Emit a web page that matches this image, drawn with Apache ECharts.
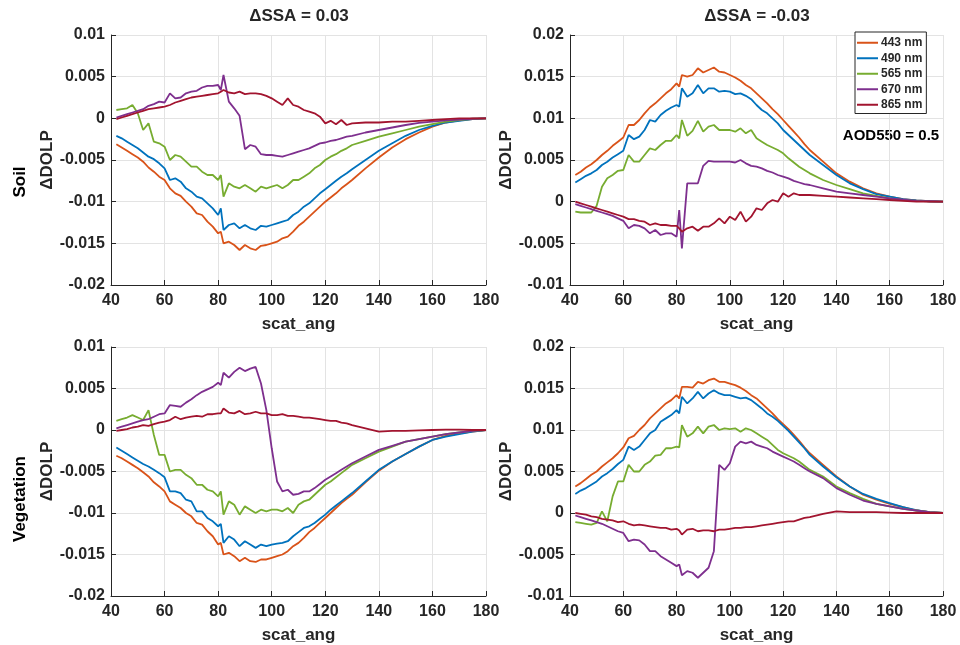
<!DOCTYPE html>
<html>
<head>
<meta charset="utf-8">
<script src="https://cdn.jsdelivr.net/npm/echarts@6/dist/echarts.min.js"></script>
<style>
  html, body { margin: 0; padding: 0; background: #fff; }
  #chart { width: 960px; height: 645px; }
</style>
</head>
<body>
<div id="chart"></div>
<script>
// scattering angle samples (deg), shared by all panels
const scatAng = [42,44,46,48,50,52,54,56,58,60,62,64,66,68,70,72,74,76,78,80,
  81,
  82,84,86,88,90,92,94,96,98,100,102,104,106,108,110,112,114,116,118,120,122,124,126,128,130,
  135,140,145,150,155,160,165,170,175,180];

const bands = ['443 nm', '490 nm', '565 nm', '670 nm', '865 nm'];
const bandColors = ['#D95319', '#0072BD', '#77AC30', '#7E2F8E', '#A2142F'];

// ΔDOLP values in units of 1e-3
// Soil, ΔSSA = 0.03
const soilPos443 = [-3.1,-3.5,-3.9,-4.3,-4.7,-5.2,-5.9,-6.4,-7.0,-7.4,-8.4,-9.0,-9.3,-10.0,-10.6,-11.4,-11.6,-12.4,-13.0,-13.8,
  -13.6,
  -15.0,-14.8,-15.2,-15.8,-15.2,-15.6,-15.8,-15.3,-15.2,-15.0,-14.8,-14.4,-14.2,-13.6,-12.9,-12.4,-11.8,-11.2,-10.6,-10.0,-9.5,-9.0,-8.4,-7.9,-7.4,
  -6.0,-4.7,-3.5,-2.5,-1.7,-1.0,-0.5,-0.25,-0.1,0];
const soilPos490 = [-2.1,-2.4,-2.8,-3.2,-3.6,-4.1,-4.6,-4.9,-5.4,-6.0,-7.4,-7.2,-7.6,-8.4,-8.8,-9.4,-9.6,-10.2,-10.8,-11.6,
  -10.8,
  -13.4,-12.8,-12.6,-13.2,-12.8,-13.2,-13.4,-12.9,-13.0,-12.8,-12.6,-12.4,-12.2,-11.6,-11.2,-10.6,-10.2,-9.6,-9.0,-8.5,-8.0,-7.5,-7.0,-6.6,-6.1,
  -5.0,-3.9,-3.0,-2.1,-1.4,-0.9,-0.5,-0.3,-0.1,0];
const soilPos565 = [1.0,1.1,1.2,1.6,0.6,-1.4,-0.6,-2.8,-3.0,-3.4,-5.0,-4.4,-4.6,-5.2,-5.8,-5.8,-6.4,-6.8,-6.8,-7.4,
  -6.8,
  -9.4,-7.8,-8.2,-8.4,-8.0,-8.4,-8.8,-8.2,-8.4,-8.2,-8.0,-8.4,-8.0,-7.4,-7.4,-7.0,-6.6,-6.0,-5.6,-5.0,-4.6,-4.3,-3.9,-3.6,-3.2,
  -2.7,-2.2,-1.8,-1.4,-1.0,-0.7,-0.4,-0.2,-0.05,0];
const soilPos670 = [0.1,0.3,0.5,0.7,0.9,1.1,1.5,1.7,2.0,1.9,3.0,2.4,2.5,3.0,3.2,3.3,3.7,3.9,3.9,4.0,
  3.4,
  5.2,2.0,1.2,0.3,-3.7,-3.2,-3.4,-4.3,-4.4,-4.4,-4.5,-4.6,-4.4,-4.2,-4.0,-3.8,-3.6,-3.3,-3.0,-2.9,-2.7,-2.6,-2.4,-2.2,-2.1,
  -1.7,-1.4,-1.1,-0.8,-0.55,-0.4,-0.25,-0.15,-0.05,0];
const soilPos865 = [-0.1,0.1,0.3,0.5,0.7,0.9,1.1,1.2,1.3,1.4,1.6,1.9,2.1,2.3,2.5,2.6,2.7,2.8,2.9,3.0,
  3.2,
  3.4,3.1,3.0,3.2,2.9,3.0,3.0,2.9,2.7,2.4,2.0,1.6,2.4,1.6,1.4,1.0,0.8,0.6,0.2,-0.6,-0.3,-0.7,-0.2,-0.8,-0.6,
  -0.5,-0.5,-0.4,-0.4,-0.3,-0.2,-0.1,0,0,0];

// Soil, ΔSSA = -0.03
const soilNeg443 = [3.2,3.6,4.1,4.5,5.0,5.6,6.1,6.7,7.2,7.7,9.2,9.2,9.8,10.6,11.3,11.8,12.4,13.0,13.5,14.2,
  13.8,
  15.2,15.0,15.2,16.0,15.5,15.8,16.1,15.6,15.5,15.2,14.9,14.5,14.0,13.6,13.0,12.4,11.8,11.1,10.5,9.8,9.1,8.4,7.7,6.9,6.2,
  4.8,3.4,2.4,1.6,1.0,0.6,0.3,0.15,0.05,0];
const soilNeg490 = [2.3,2.7,3.1,3.4,3.8,4.4,4.8,5.3,5.7,6.1,8.0,7.5,7.8,8.6,9.8,9.6,10.4,10.9,11.3,11.6,
  11.4,
  13.6,12.6,13.0,14.0,13.0,13.6,13.6,13.2,13.3,13.2,12.9,13.0,12.7,12.3,11.6,11.0,10.6,10.0,9.4,8.6,8.0,7.4,6.8,6.2,5.6,
  4.4,3.2,2.2,1.5,0.9,0.6,0.3,0.15,0.05,0];
const soilNeg565 = [-1.2,-1.3,-1.3,-1.3,-0.5,1.8,2.8,3.2,3.7,3.8,5.6,4.8,4.8,5.6,6.4,6.2,6.8,7.3,7.3,8.0,
  7.6,
  9.8,7.9,8.5,9.7,8.4,9.0,9.2,8.6,8.6,8.6,8.4,8.8,8.2,8.6,7.6,7.2,6.8,6.5,6.2,5.8,5.2,4.7,4.2,3.8,3.4,
  2.6,2.0,1.5,1.0,0.7,0.4,0.2,0.1,0.03,0];
const soilNeg670 = [-0.3,-0.5,-0.7,-0.9,-1.1,-1.3,-1.5,-1.7,-2.0,-2.3,-3.2,-2.8,-2.9,-3.2,-3.8,-3.4,-4.0,-3.8,-3.8,-4.2,
  -1.0,
  -5.6,2.2,2.2,2.2,4.3,4.9,4.8,4.8,4.8,4.8,4.7,5.0,4.6,4.3,4.2,4.0,3.7,3.5,3.2,3.0,2.8,2.5,2.3,2.1,2.0,
  1.6,1.2,1.0,0.8,0.6,0.4,0.25,0.1,0.05,0];
const soilNeg865 = [0.0,-0.2,-0.4,-0.6,-0.8,-1.0,-1.2,-1.4,-1.6,-1.8,-2.1,-2.1,-2.3,-2.4,-2.8,-2.6,-2.8,-2.8,-2.9,-2.9,
  -3.2,
  -3.6,-3.2,-3.0,-3.5,-3.0,-3.0,-2.6,-2.0,-2.6,-1.8,-2.2,-1.2,-2.4,-1.8,-0.8,-1.0,-0.2,0.2,0.0,1.0,0.6,1.0,0.8,0.8,0.8,
  0.7,0.6,0.5,0.4,0.3,0.2,0.1,0,0,0];

// Vegetation, ΔSSA = 0.03
const vegPos443 = [-3.1,-3.4,-3.8,-4.2,-4.6,-5.1,-5.6,-6.3,-6.8,-7.4,-8.6,-9.0,-9.4,-10.0,-10.4,-11.2,-11.4,-12.2,-12.8,-13.8,
  -13.6,
  -15.0,-14.8,-15.2,-15.8,-15.4,-15.8,-15.9,-15.6,-15.6,-15.4,-15.2,-15.0,-14.6,-14.0,-13.6,-13.0,-12.3,-11.8,-11.2,-10.6,-10.0,-9.4,-8.8,-8.3,-7.8,
  -6.3,-4.9,-3.8,-2.9,-2.0,-1.2,-0.7,-0.4,-0.2,0];
const vegPos490 = [-2.1,-2.5,-2.9,-3.3,-3.7,-4.1,-4.4,-4.8,-5.2,-5.7,-7.4,-7.4,-7.6,-8.4,-8.6,-9.8,-9.8,-10.6,-11.0,-11.6,
  -11.3,
  -13.6,-12.8,-13.2,-14.0,-13.4,-13.8,-14.2,-13.8,-14.0,-13.8,-13.7,-13.6,-13.4,-12.8,-12.3,-11.8,-11.6,-11.2,-10.7,-10.2,-9.6,-9.1,-8.6,-8.1,-7.6,
  -6.2,-4.8,-3.8,-2.9,-2.0,-1.2,-0.8,-0.5,-0.2,0];
const vegPos565 = [1.1,1.3,1.5,1.8,1.5,1.2,2.4,-0.6,-3.0,-3.0,-5.0,-4.8,-4.8,-5.4,-5.8,-6.6,-6.6,-7.2,-7.4,-8.0,
  -7.4,
  -10.2,-8.6,-9.0,-10.2,-9.2,-9.6,-10.0,-9.6,-9.8,-9.6,-9.6,-9.8,-9.4,-10.0,-9.0,-8.6,-8.4,-7.8,-7.2,-6.6,-6.2,-5.7,-5.2,-4.7,-4.2,
  -3.4,-2.6,-2.0,-1.4,-1.1,-0.8,-0.5,-0.3,-0.1,0];
const vegPos670 = [0.2,0.4,0.6,0.8,1.0,1.2,1.3,1.6,1.9,2.0,3.0,2.9,2.8,3.3,3.7,4.2,4.6,4.9,5.2,5.7,
  5.4,
  6.9,6.3,7.0,7.5,7.1,7.4,7.6,5.6,2.4,-2.2,-6.2,-7.4,-7.2,-7.8,-7.7,-7.4,-7.4,-7.0,-6.5,-6.0,-5.6,-5.2,-4.8,-4.4,-4.0,
  -3.2,-2.4,-1.9,-1.4,-1.1,-0.8,-0.5,-0.3,-0.1,0];
const vegPos865 = [-0.1,0.0,0.1,0.3,0.4,0.6,0.5,0.7,0.9,1.0,1.2,1.6,1.3,1.5,1.6,1.7,1.6,1.9,1.9,2.0,
  2.0,
  2.6,2.1,2.0,2.3,1.9,2.0,2.2,2.0,2.0,1.8,1.8,1.9,1.7,1.7,1.6,1.5,1.5,1.4,1.3,1.2,1.1,1.1,0.9,0.8,0.6,
  0.2,-0.2,-0.1,-0.1,-0.05,0,0.05,0.05,0,0];

// Vegetation, ΔSSA = -0.03
const vegNeg443 = [3.2,3.6,4.1,4.6,5.0,5.6,6.1,6.6,7.2,7.9,9.0,9.3,10.0,10.6,11.4,12.0,12.6,13.2,13.6,14.2,
  13.8,
  15.2,15.2,15.1,15.8,15.6,16.0,16.2,15.8,15.8,15.6,15.4,15.1,14.7,14.2,13.8,13.2,12.6,12.0,11.3,10.7,10.1,9.4,8.7,7.9,7.2,
  5.8,4.4,3.2,2.2,1.6,1.1,0.7,0.3,0.1,0];
const vegNeg490 = [2.3,2.7,3.0,3.4,3.8,4.4,4.8,5.3,5.9,6.4,8.0,7.6,8.0,8.8,9.6,10.0,11.0,11.4,11.8,12.4,
  12.0,
  14.0,13.2,13.8,14.6,13.8,14.4,14.8,14.4,14.2,14.2,14.0,13.8,13.9,13.6,13.1,12.6,12.0,11.6,11.1,10.5,9.9,9.2,8.5,7.8,7.0,
  5.6,4.3,3.2,2.3,1.7,1.2,0.7,0.35,0.1,0];
const vegNeg565 = [-1.1,-1.2,-1.3,-1.4,-1.2,0.2,-1.0,2.0,3.8,3.8,5.8,5.0,5.0,5.8,6.2,6.9,7.0,7.8,7.8,8.0,
  7.9,
  10.6,9.2,9.6,10.4,9.6,10.4,10.6,10.0,10.2,10.1,10.2,9.8,10.2,10.0,9.6,9.2,8.8,8.2,7.6,7.2,6.9,6.6,6.2,5.7,5.2,
  4.4,3.2,2.4,1.7,1.1,0.8,0.5,0.3,0.1,0];
const vegNeg670 = [-0.3,-0.5,-0.7,-0.9,-1.1,-1.3,-1.6,-1.9,-2.2,-2.4,-3.4,-3.2,-3.3,-3.8,-4.6,-4.6,-5.2,-5.6,-6.0,-6.4,
  -6.2,
  -7.5,-7.0,-7.2,-7.8,-7.2,-6.6,-4.6,5.8,5.2,6.0,8.0,8.6,8.4,8.6,8.2,8.0,7.8,7.4,7.1,6.8,6.5,6.2,5.8,5.4,5.0,
  4.2,3.0,2.2,1.5,1.1,0.8,0.5,0.3,0.1,0];
const vegNeg865 = [0.0,-0.1,-0.2,-0.4,-0.5,-0.7,-0.8,-0.9,-1.1,-1.0,-1.3,-1.5,-1.4,-1.5,-1.6,-1.7,-1.8,-1.8,-2.0,-1.9,
  -2.1,
  -2.6,-2.0,-1.9,-2.2,-2.1,-2.1,-2.2,-2.0,-2.0,-1.9,-1.8,-1.8,-1.7,-1.7,-1.6,-1.5,-1.4,-1.3,-1.2,-1.1,-1.0,-1.0,-0.8,-0.6,-0.5,
  -0.1,0.2,0.1,0.1,0.1,0.05,0,0,0,0];

const panels = [
  [soilPos443, soilPos490, soilPos565, soilPos670, soilPos865],
  [soilNeg443, soilNeg490, soilNeg565, soilNeg670, soilNeg865],
  [vegPos443, vegPos490, vegPos565, vegPos670, vegPos865],
  [vegNeg443, vegNeg490, vegNeg565, vegNeg670, vegNeg865]
];
const yMins = [-0.02, -0.01, -0.02, -0.01];
const yMaxs = [0.01, 0.02, 0.01, 0.02];

const font = 'Liberation Sans, Arial, Helvetica, sans-serif';
const ink = '#262626';
const gridColor = '#e3e3e3';

const grids = [
  { left: 111, top: 35, width: 375, height: 250 },
  { left: 570, top: 35, width: 373, height: 250 },
  { left: 111, top: 347, width: 375, height: 249 },
  { left: 570, top: 347, width: 373, height: 249 }
];

const xAxes = grids.map((g, i) => ({
  type: 'value', gridIndex: i, min: 40, max: 180, interval: 20,
  name: 'scat_ang', nameLocation: 'middle', nameGap: 31,
  nameTextStyle: { fontFamily: font, fontWeight: 'bold', fontSize: 17, color: ink },
  axisLine: { onZero: false, lineStyle: { color: ink, width: 1 } },
  axisTick: { inside: true, length: 5, lineStyle: { color: ink } },
  axisLabel: { fontFamily: font, fontWeight: 'bold', fontSize: 16, color: ink, margin: 8 },
  splitLine: { show: true, lineStyle: { color: gridColor, width: 1 } }
}));

const yAxes = grids.map((g, i) => ({
  type: 'value', gridIndex: i, min: yMins[i], max: yMaxs[i], interval: 0.005,
  name: 'ΔDOLP', nameLocation: 'middle', nameGap: 51, nameRotate: 90,
  nameTextStyle: { fontFamily: font, fontWeight: 'bold', fontSize: 17, color: ink },
  axisLine: { show: true, onZero: false, lineStyle: { color: ink, width: 1 } },
  axisTick: { show: true, inside: true, length: 5, lineStyle: { color: ink } },
  axisLabel: {
    fontFamily: font, fontWeight: 'bold', fontSize: 16, color: ink, margin: 6,
    formatter: v => String(parseFloat(v.toFixed(4)))
  },
  splitLine: { show: true, lineStyle: { color: gridColor, width: 1 } }
}));

const series = [];
panels.forEach((sets, gi) => {
  sets.forEach((vals, bi) => {
    series.push({
      name: bands[bi], type: 'line', xAxisIndex: gi, yAxisIndex: gi,
      showSymbol: false, symbol: 'none', animation: false,
      lineStyle: { color: bandColors[bi], width: 1.8 },
      itemStyle: { color: bandColors[bi] },
      data: scatAng.map((x, k) => [x, vals[k] / 1000])
    });
  });
});

const chart = echarts.init(document.getElementById('chart'));
chart.setOption({
  animation: false,
  backgroundColor: '#fff',
  grid: grids,
  xAxis: xAxes,
  yAxis: yAxes,
  legend: {
    data: bands, orient: 'vertical', left: 855, top: 32,
    icon: 'rect', itemWidth: 21, itemHeight: 2, itemGap: 2,
    padding: [4, 4, 2, 2],
    backgroundColor: '#fff', borderColor: ink, borderWidth: 1,
    textStyle: { fontFamily: font, fontWeight: 'bold', fontSize: 12, color: ink, lineHeight: 13.5, padding: [0, 0, 0, -2] }
  },
  graphic: [
    { type: 'text', x: 299, y: 16, style: { text: 'ΔSSA = 0.03', font: 'bold 17px ' + font, fill: ink, textAlign: 'center', textVerticalAlign: 'middle' } },
    { type: 'text', x: 757, y: 16, style: { text: 'ΔSSA = -0.03', font: 'bold 17px ' + font, fill: ink, textAlign: 'center', textVerticalAlign: 'middle' } },
    { type: 'text', x: 20, y: 182, rotation: Math.PI / 2, style: { text: 'Soil', font: 'bold 17px ' + font, fill: '#000', textAlign: 'center', textVerticalAlign: 'middle' } },
    { type: 'text', x: 20, y: 499, rotation: Math.PI / 2, style: { text: 'Vegetation', font: 'bold 17px ' + font, fill: '#000', textAlign: 'center', textVerticalAlign: 'middle' } },
    { type: 'text', x: 891, y: 136, style: { text: 'AOD550 = 0.5', font: 'bold 15px ' + font, fill: '#000', textAlign: 'center', textVerticalAlign: 'middle' } }
  ],
  series: series
});
</script>
</body>
</html>
